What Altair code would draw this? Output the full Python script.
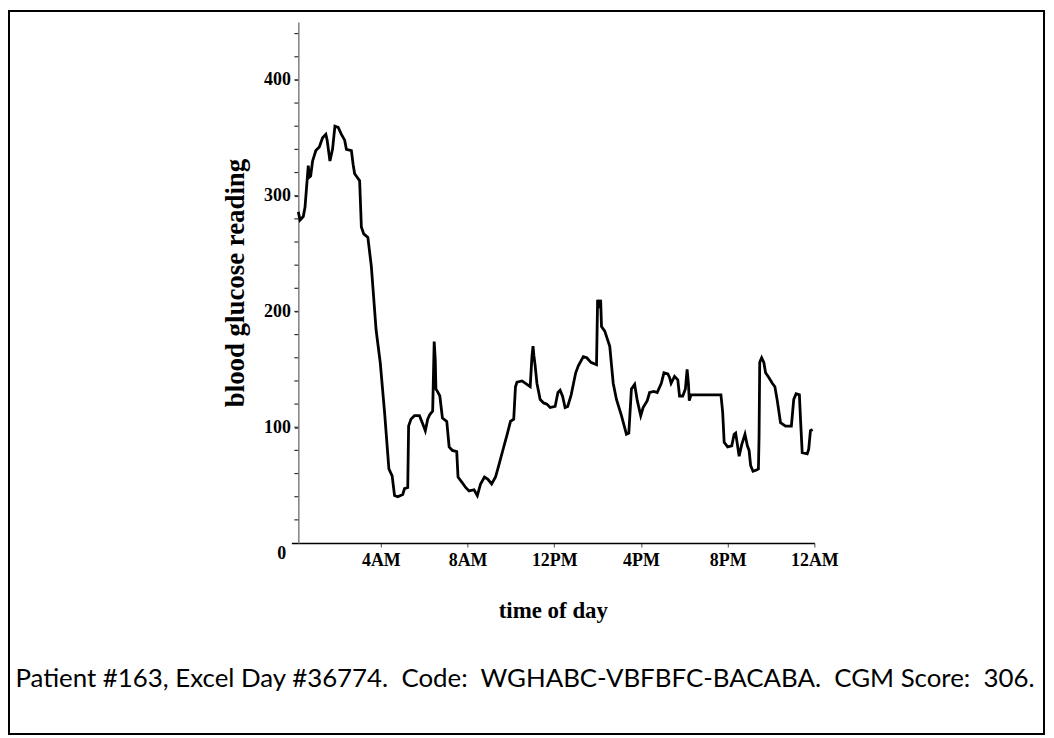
import altair as alt
import pandas as pd

# ---- data ----
hours = [
    0.19, 0.27, 0.42, 0.50, 0.57, 0.65, 0.70, 0.76, 0.85, 1.00, 1.16, 1.31, 1.46, 1.52,
    1.65, 1.77, 1.88, 2.03, 2.18, 2.33, 2.41, 2.64, 2.72, 2.79, 3.02, 3.10, 3.21, 3.40,
    3.56, 3.78, 3.97, 4.17, 4.37, 4.52, 4.63, 4.78, 5.01,
    5.09, 5.24, 5.28, 5.39, 5.55, 5.78, 5.93, 6.05, 6.16, 6.26, 6.39, 6.46, 6.51, 6.54,
    6.61, 6.72, 6.84, 7.04, 7.15, 7.30, 7.50, 7.56, 7.76, 7.91, 8.07, 8.30, 8.45, 8.60,
    8.78, 8.94, 9.11, 9.29, 9.44, 9.64, 9.83, 9.98, 10.13, 10.21, 10.28, 10.51, 10.74,
    10.89, 10.97, 11.02, 11.06, 11.12, 11.20,
    11.35, 11.51, 11.66, 11.81, 12.04, 12.17, 12.27, 12.38, 12.50, 12.62, 12.78, 12.89,
    12.99, 13.11, 13.34, 13.50, 13.69, 13.95, 14.00, 14.08, 14.14, 14.18, 14.33, 14.56,
    14.72, 14.87, 15.10, 15.33, 15.44, 15.56, 15.71, 15.83, 15.99, 16.10, 16.29, 16.40,
    16.60, 16.75, 16.94, 17.06, 17.24,
    17.32, 17.39, 17.55, 17.70, 17.78, 17.93, 18.05, 18.13, 18.19, 18.23, 18.31, 19.69,
    19.77, 19.84, 20.00, 20.19, 20.30, 20.37, 20.45, 20.53, 20.65, 20.80, 20.91, 20.99,
    21.06, 21.17, 21.33, 21.42, 21.45, 21.48, 21.57, 21.67, 21.75, 21.90, 22.06, 22.18,
    22.29, 22.44, 22.67, 22.94, 23.05, 23.16, 23.31, 23.37, 23.44, 23.67, 23.74, 23.82,
    23.92,
]
glucose = [
    286, 279, 282, 290, 307, 326, 316, 317, 330, 339, 342, 350, 353, 348,
    330, 340, 360, 359, 353, 348, 340, 339, 327, 319, 313, 273, 267, 264,
    239, 184, 156, 113, 64, 58, 41, 40, 42,
    47, 48, 101, 107, 110, 110, 103, 97, 107, 111, 114, 174, 158, 133,
    131, 127, 108, 105, 83, 80, 79, 57, 52, 48, 45, 46, 41, 51,
    57, 55, 51, 57, 67, 81, 94, 105, 107, 135, 139, 140, 137,
    135, 161, 170, 162, 153, 138,
    124, 121, 120, 117, 118, 130, 132, 127, 117, 118, 128, 138,
    147, 153, 161, 160, 156, 154, 210, 206, 210, 187, 183, 170,
    138, 124, 110, 94, 95, 133, 137, 123, 110, 117, 123, 130,
    131, 130, 138, 147, 146,
    143, 138, 144, 141, 127, 127, 133, 150, 138, 123, 128, 128,
    113, 87, 83, 84, 94, 95, 85, 75, 85, 94, 84, 80,
    67, 62, 63, 64, 92, 156, 160, 156, 147, 143, 138, 135,
    123, 104, 101, 101, 124, 129, 128, 104, 78, 77, 81, 97,
    98,
]

x_tick_values = [4, 8, 12, 16, 20, 24]
x_tick_labels = ["4AM", "8AM", "12PM", "4PM", "8PM", "12AM"]
y_label_values = [100, 200, 300, 400]
y_minor_values = list(range(20, 450, 20))
y_title = "blood glucose reading"
x_title = "time of day"
origin_label = ["0"]
caption = ["Patient #163, Excel Day #36774.\u00a0 Code:\u00a0 WGHABC-VBFBFC-BACABA.\u00a0 CGM Score:\u00a0 306."]

df = pd.DataFrame({"hour": hours, "glucose": glucose})

# label expression built from the tick lists
x_label_expr = "''"
for v, lab in reversed(list(zip(x_tick_values, x_tick_labels))):
    x_label_expr = f"datum.value == {v} ? '{lab}' : ({x_label_expr})"

SERIF = "Liberation Serif"

x_scale = alt.Scale(domain=[-0.13, 24.0], nice=False, zero=False)
y_scale = alt.Scale(domain=[0, 450], nice=False)

line = alt.Chart(df).mark_line(color="black", strokeWidth=2.8).encode(
    x=alt.X(
        "hour:Q",
        scale=x_scale,
        axis=alt.Axis(
            values=x_tick_values,
            labelExpr=x_label_expr,
            title=x_title,
            grid=False,
            domainColor="black",
            domainWidth=1.5,
            tickColor="#666666",
            tickWidth=1.2,
            tickSize=4,
            labelFont=SERIF,
            labelFontSize=18,
            labelFontWeight="bold",
            labelColor="black",
            labelPadding=5,
            labelFlush=False,
            labelOverlap=False,
            titleFont=SERIF,
            titleFontSize=23,
            titleFontWeight="bold",
            titleColor="black",
            titlePadding=30,
        ),
    ),
    y=alt.Y(
        "glucose:Q",
        scale=y_scale,
        axis=alt.Axis(
            values=y_label_values,
            title=y_title,
            offset=-7,
            grid=False,
            domainColor="#808080",
            domainWidth=1.5,
            tickColor="#333333",
            tickWidth=1.2,
            tickSize=4,
            labelFont=SERIF,
            labelFontSize=18,
            labelFontWeight="bold",
            labelColor="black",
            labelPadding=4,
            labelFlush=False,
            labelOverlap=False,
            titleFont=SERIF,
            titleFontSize=27,
            titleFontWeight="bold",
            titleColor="black",
            titlePadding=14,
        ),
    ),
)

# minor ticks on the y axis (every 20), drawn through the y scale
minor = alt.Chart(pd.DataFrame({"glucose": y_minor_values})).mark_rule(
    color="#333333", strokeWidth=1.2,
).encode(
    y=alt.Y("glucose:Q", scale=y_scale),
    x=alt.value(3),
    x2=alt.value(7),
)

origin = alt.Chart(pd.DataFrame({"hour": [0], "glucose": [0], "t": origin_label})).mark_text(
    font=SERIF, fontSize=18, fontWeight="bold", color="black",
    align="right", baseline="middle", dx=-8, dy=11,
).encode(
    x=alt.X("hour:Q", scale=x_scale),
    y=alt.Y("glucose:Q", scale=y_scale),
    text="t:N",
)

cap = alt.Chart(pd.DataFrame({"t": caption})).mark_text(
    font="Lato", fontSize=26, color="black", align="center", baseline="middle",
).encode(
    x=alt.value(235),
    y=alt.value(661),
    text="t:N",
)

frame = alt.Chart(pd.DataFrame({"a": [0]})).mark_rect(
    fill="transparent", stroke="black", strokeWidth=2,
).encode(
    x=alt.value(-284),
    x2=alt.value(757),
    y=alt.value(-11),
    y2=alt.value(716),
)

chart = alt.layer(line, minor, origin, cap, frame).properties(
    width=526,
    height=524,
    autosize=alt.AutoSizeParams(type="none"),
    padding={"left": 285, "top": 12, "right": 233, "bottom": 194},
    background="white",
).configure_view(strokeWidth=0)

chart.save("out.html", embed_options={"renderer": "svg", "actions": False})
